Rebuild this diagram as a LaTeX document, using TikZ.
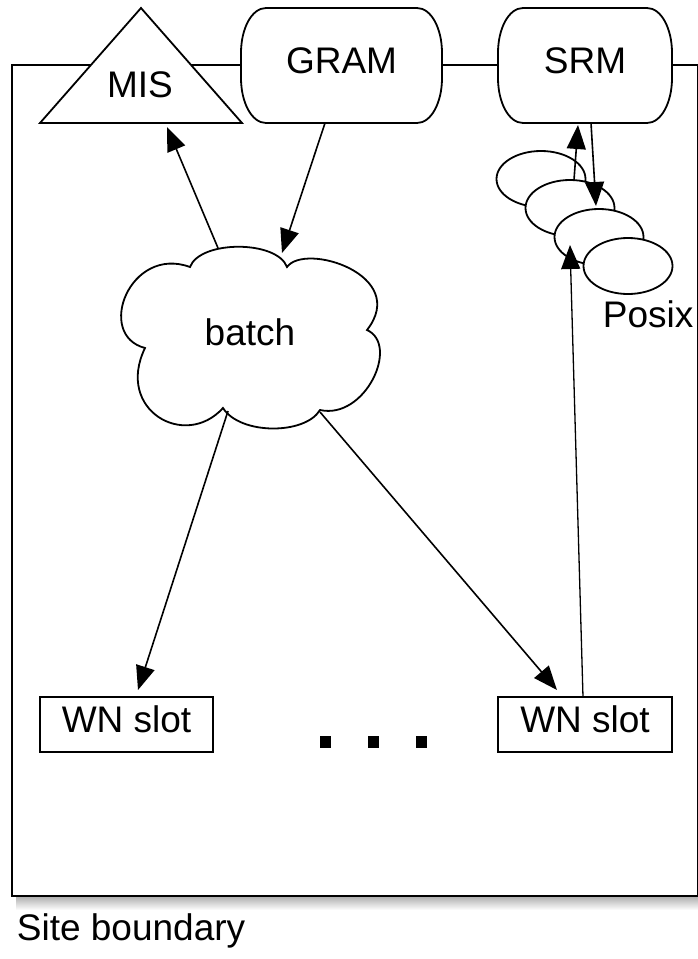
\documentclass[tikz,border=0pt]{standalone}
\usepackage{fontspec}
\setmainfont{Liberation Sans}
\usetikzlibrary{shapes.geometric,arrows.meta,calc}
\newcommand\eboxpath[4]{%
  \draw[fill=white] (#1+25,#2) -- (#3-25,#2)
    .. controls (#3-11,#2) and (#3,#2+20) .. (#3,#2+45) -- (#3,#4-45)
    .. controls (#3,#4-20) and (#3-11,#4) .. (#3-25,#4) -- (#1+25,#4)
    .. controls (#1+11,#4) and (#1,#4-20) .. (#1,#4-45) -- (#1,#2+45)
    .. controls (#1,#2+20) and (#1+11,#2) .. (#1+25,#2) -- cycle;}
\begin{document}
\begin{tikzpicture}[x=1pt,y=-1pt,
  font=\fontsize{37}{44}\selectfont, line width=1.8pt,
  lbl/.style={text height=27pt, text depth=11pt, inner sep=0pt},
  arr/.style={-{Triangle[length=24pt,width=19pt]}, line width=1.6pt},
  wn/.style={draw, fill=white, minimum width=173pt, minimum height=55pt, lbl},
  posixell/.style={draw, fill=white, ellipse, minimum width=89pt, minimum height=56pt, inner sep=0pt},
  dotsq/.style={fill=black, minimum width=11pt, minimum height=12pt, inner sep=0pt}]
\useasboundingbox (0,0) rectangle (698,959);
% site boundary with its shadow
\shade[top color=gray!60, bottom color=white] (16,897) rectangle (698,910);
\draw[line width=2.2pt] (12,65) rectangle (698,896);
\node[anchor=base west, inner sep=0pt] (site) at (16,940) {Site boundary};
% MIS triangle
\draw[fill=white] (141,8) -- (242,123) -- (40,123) -- cycle;
\node[lbl] (mis) at (140,89) {MIS};
% GRAM and SRM
\eboxpath{241}{8}{442}{123}
\node[lbl, minimum width=201pt, minimum height=115pt] (gram) at (341.5,65.5) {GRAM};
\eboxpath{498}{8}{672}{123}
\node[lbl, minimum width=174pt, minimum height=115pt] (srm) at (585,65.5) {SRM};
% Posix ellipses
\node[posixell] (e1) at (541,179) {};
\node[posixell] (e2) at (570,208) {};
\node[posixell] (e3) at (599,237) {};
\node[posixell] (e4) at (628,266) {};
\node[anchor=base west, inner sep=0pt] (posix) at (602,327) {Posix};
% batch cloud
\draw[fill=white] (190,267)
   .. controls (200,240) and (277,240) .. (287,267)
   .. controls (305,242) and (410,275) .. (367,330)
   .. controls (400,345) and (365,420) .. (320,410)
   .. controls (305,435) and (240,435) .. (223,408)
   .. controls (185,450) and (115,410) .. (145,348)
   .. controls (95,335) and (130,245) .. (190,267) -- cycle;
\node[lbl, minimum width=266pt, minimum height=180pt] (batch) at (250,337) {batch};
% WN slots
\node[wn] (wn1) at (126.5,724.5) {WN slot};
\node[wn, minimum width=174pt] (wn2) at (585,724.5) {WN slot};
\node[dotsq] (d1) at (325,742) {};
\node[dotsq] (d2) at (373,742) {};
\node[dotsq] (d3) at (421,742) {};
% connectors
\draw[arr] ($(batch.center)+(-32,-89)$) -- ($(mis.center)+(27,38)$);
\draw[arr] ($(gram.center)+(-16.5,57.5)$) -- ($(batch.center)+(32,-84)$);
\draw[arr] ($(batch.center)+(-22,74)$) -- ($(wn1.center)+(11.5,-34.5)$);
\draw[arr] ($(batch.center)+(70,75)$) -- ($(wn2.center)+(-28,-34.5)$);
\draw[arr, line width=1.3pt] ($(wn2.center)+(-2,-27.5)$) -- ($(e3.center)+(-29,8)$);
\draw[arr] ($(e2.center)+(4,-28)$) -- ($(srm.center)+(-7,59.5)$);
\draw[arr] ($(srm.center)+(6,57.5)$) -- ($(e3.center)+(-3,-31)$);
\end{tikzpicture}
\end{document}
